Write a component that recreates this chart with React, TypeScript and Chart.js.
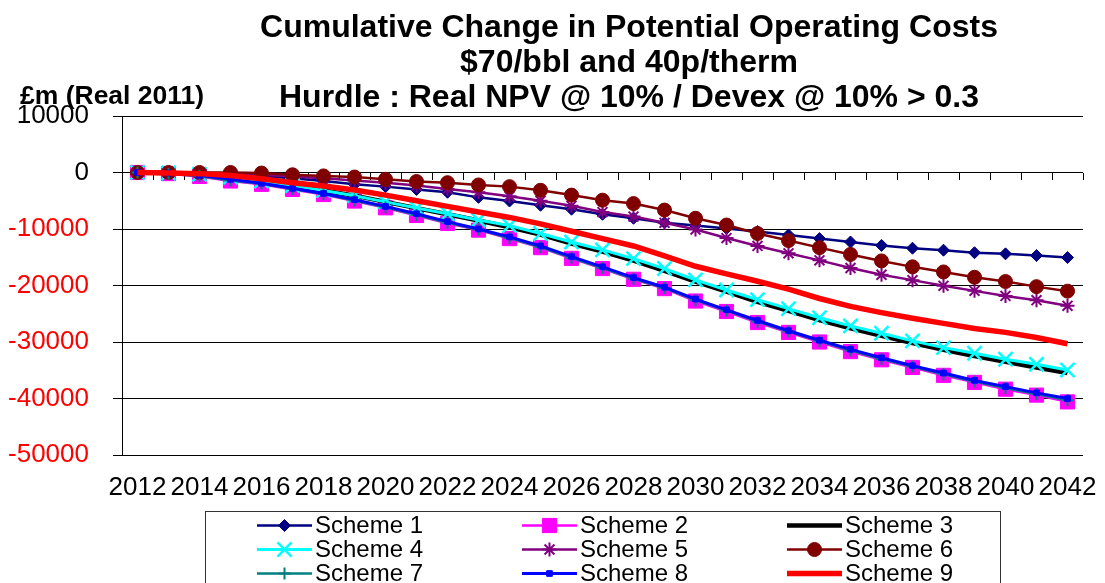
import React, { useEffect, useRef } from 'react';
import { Chart, registerables } from 'chart.js';
import { drawPoint } from 'chart.js/helpers';

Chart.register(...registerables);

const years = [
  '2012', '2013', '2014', '2015', '2016', '2017', '2018', '2019', '2020', '2021',
  '2022', '2023', '2024', '2025', '2026', '2027', '2028', '2029', '2030', '2031',
  '2032', '2033', '2034', '2035', '2036', '2037', '2038', '2039', '2040', '2041', '2042',
];

const seriesNames = ['Scheme 1', 'Scheme 2', 'Scheme 3', 'Scheme 4', 'Scheme 5', 'Scheme 6', 'Scheme 7', 'Scheme 8', 'Scheme 9'];

const scheme1 = [0, 0, -100, -300, -600, -1000, -1500, -2100, -2500, -3000, -3500, -4400, -5050, -5800, -6500, -7400, -8100, -8900, -9400, -9900, -10450, -11050, -11700, -12300, -12900, -13400, -13750, -14200, -14400, -14700, -15050];
const scheme2 = [0, -200, -700, -1500, -2100, -3000, -3900, -5050, -6250, -7600, -9000, -10200, -11700, -13300, -15200, -17000, -18900, -20550, -22750, -24600, -26550, -28300, -30000, -31700, -33150, -34500, -35900, -37150, -38350, -39400, -40600];
const scheme3 = [0, -100, -300, -800, -1500, -2300, -3200, -4100, -5200, -6300, -7400, -8500, -9700, -11000, -12600, -14000, -15600, -17400, -19300, -21100, -22900, -24500, -26100, -27600, -28900, -30200, -31400, -32500, -33500, -34500, -35500];
const scheme4 = [0, -100, -300, -800, -1500, -2300, -3200, -4100, -5200, -6300, -7300, -8400, -9400, -10800, -12300, -13700, -15250, -17000, -19000, -20800, -22500, -24100, -25700, -27150, -28450, -29800, -31000, -32000, -33050, -33950, -34950];
const scheme5 = [0, 0, -100, -200, -400, -700, -1000, -1400, -1800, -2300, -2900, -3500, -4200, -5000, -5900, -7000, -7800, -8900, -10100, -11600, -13000, -14300, -15550, -16900, -18100, -19050, -20050, -20950, -21850, -22600, -23600];
const scheme6 = [0, 0, 0, 0, -100, -400, -600, -800, -1200, -1600, -1800, -2200, -2500, -3150, -4000, -4900, -5500, -6650, -8100, -9300, -10800, -12050, -13300, -14500, -15650, -16700, -17600, -18550, -19300, -20200, -21000];
const scheme7 = [0, -200, -600, -1400, -2000, -2900, -3800, -4950, -6150, -7500, -8900, -10100, -11600, -13200, -15100, -16900, -18800, -20450, -22600, -24450, -26400, -28150, -29850, -31500, -33000, -34350, -35700, -37000, -38150, -39200, -40300];
const scheme8 = [0, -100, -500, -1200, -1900, -2800, -3700, -4800, -6000, -7300, -8700, -10000, -11400, -13000, -14900, -16700, -18600, -20300, -22400, -24300, -26200, -28000, -29700, -31300, -32800, -34200, -35500, -36800, -37900, -39000, -40000];
const scheme9 = [0, -100, -200, -550, -1100, -1800, -2400, -3100, -4000, -5000, -6000, -7000, -7950, -9100, -10400, -11700, -13000, -14750, -16600, -17950, -19250, -20650, -22300, -23700, -24800, -25800, -26700, -27600, -28300, -29200, -30300];

const seriesValues = [scheme1, scheme2, scheme3, scheme4, scheme5, scheme6, scheme7, scheme8, scheme9];

const yMin = -50000;
const yMax = 10000;
const yStep = 10000;

const titleLines = [
  'Cumulative Change in Potential Operating Costs',
  '$70/bbl and 40p/therm',
  'Hurdle : Real NPV @ 10% / Devex @ 10% > 0.3',
];
const unitLabel = '£m (Real 2011)';

const FONT = '"Liberation Sans", Arial, sans-serif';

type Style = { color: string; pointStyle: any; radius: number; lineWidth: number; pointBorder: number };
const styles: Style[] = [
  { color: '#000080', pointStyle: 'rectRot', radius: 6, lineWidth: 2.5, pointBorder: 1 },
  { color: '#FF00FF', pointStyle: 'rect', radius: 10, lineWidth: 2.5, pointBorder: 1 },
  { color: '#000000', pointStyle: false, radius: 0, lineWidth: 4.5, pointBorder: 0 },
  { color: '#00FFFF', pointStyle: 'crossRot', radius: 10, lineWidth: 3, pointBorder: 2.5 },
  { color: '#800080', pointStyle: 'star', radius: 7, lineWidth: 2.5, pointBorder: 2 },
  { color: '#800000', pointStyle: 'circle', radius: 7, lineWidth: 2.5, pointBorder: 1 },
  { color: '#008080', pointStyle: 'cross', radius: 6, lineWidth: 2.5, pointBorder: 2 },
  { color: '#0000FF', pointStyle: 'rect', radius: 4, lineWidth: 3, pointBorder: 1 },
  { color: '#FF0000', pointStyle: false, radius: 0, lineWidth: 5.5, pointBorder: 0 },
];

const headerPlugin = {
  id: 'headerText',
  afterDraw(chart: any) {
    const ctx = chart.ctx;
    ctx.save();
    ctx.fillStyle = '#000';
    ctx.textBaseline = 'alphabetic';
    ctx.textAlign = 'center';
    ctx.font = `bold 32px ${FONT}`;
    const baselines = [37, 72, 107];
    titleLines.forEach((t, i) => ctx.fillText(t, 629, baselines[i]));
    ctx.textAlign = 'left';
    ctx.font = `bold 26.5px ${FONT}`;
    ctx.fillText(unitLabel, 20, 104);
    ctx.restore();
  },
};

const legendPlugin = {
  id: 'boxLegend',
  afterDraw(chart: any) {
    const ctx = chart.ctx;
    ctx.save();
    ctx.strokeStyle = '#333';
    ctx.lineWidth = 1;
    ctx.strokeRect(205.5, 511.5, 795, 120);
    const rows = [525.5, 549.5, 573.5];
    chart.data.datasets.forEach((ds: any, i: number) => {
      const st = styles[i];
      const col = i % 3;
      const row = Math.floor(i / 3);
      const x0 = 257 + col * 265;
      const y = rows[row];
      ctx.strokeStyle = st.color;
      ctx.lineWidth = st.lineWidth;
      ctx.beginPath();
      ctx.moveTo(x0, y);
      ctx.lineTo(x0 + 55, y);
      ctx.stroke();
      if (st.pointStyle) {
        ctx.fillStyle = st.color;
        ctx.strokeStyle = st.color;
        ctx.lineWidth = st.pointBorder;
        drawPoint(ctx, { pointStyle: st.pointStyle, radius: st.radius, borderWidth: st.pointBorder, rotation: 0 } as any, x0 + 27.5, y);
      }
      ctx.fillStyle = '#000';
      ctx.font = `24px ${FONT}`;
      ctx.textAlign = 'left';
      ctx.textBaseline = 'middle';
      ctx.fillText(ds.label, x0 + 58, y + 1);
    });
    ctx.restore();
  },
};

export default function App() {
  const ref = useRef<HTMLCanvasElement>(null);
  useEffect(() => {
    const canvas = ref.current!;
    const datasets = seriesValues.map((vals, i) => {
      const st = styles[i];
      return {
        label: seriesNames[i],
        data: vals,
        borderColor: st.color,
        backgroundColor: st.color,
        borderWidth: st.lineWidth,
        pointStyle: st.pointStyle,
        pointRadius: st.radius,
        pointHoverRadius: st.radius,
        pointBackgroundColor: st.color,
        pointBorderColor: st.color,
        pointBorderWidth: st.pointBorder,
        tension: 0,
        fill: false,
        order: 8 - i,
      };
    });
    const chart = new Chart(canvas, {
      type: 'line',
      data: { labels: years, datasets },
      options: {
        responsive: false,
        animation: false,
        devicePixelRatio: 1,
        layout: { padding: { left: 0, right: 22, top: 116, bottom: 78 } },
        plugins: {
          legend: { display: false },
          title: { display: false },
          tooltip: { enabled: false },
        },
        scales: {
          x: {
            type: 'category',
            position: 'bottom',
            offset: true,
            grid: { display: false, drawTicks: false },
            border: { display: false },
            ticks: {
              autoSkip: false,
              maxRotation: 0,
              minRotation: 0,
              padding: 17,
              color: '#000',
              font: { family: FONT, size: 26 },
              callback: (_v: any, i: number) => (i % 2 === 0 ? years[i] : ''),
            },
            afterFit: (s: any) => { s.height = 50; s.paddingLeft = 0; s.paddingRight = 0; },
          },
          x0: {
            type: 'category',
            position: { y: 0 },
            offset: true,
            grid: { display: true, offset: true, drawOnChartArea: false, drawTicks: true, tickLength: 7, color: '#000', lineWidth: 1 },
            border: { display: false },
            ticks: { display: false },
            afterFit: (s: any) => { s.paddingLeft = 0; s.paddingRight = 0; },
          },
          y: {
            type: 'linear',
            position: 'left',
            min: yMin,
            max: yMax,
            ticks: {
              stepSize: yStep,
              padding: 24,
              color: (c: any) => (c.tick && c.tick.value < 0 ? '#FF0000' : '#000000'),
              font: { family: FONT, size: 26 },
              callback: (v: any) => String(v),
            },
            grid: { color: '#000', lineWidth: 1, drawTicks: true, tickLength: 9 },
            border: { display: true, color: '#000', width: 1 },
            afterFit: (s: any) => { s.width = 122; s.paddingTop = 0; s.paddingBottom = 0; },
          },
        },
      } as any,
      plugins: [headerPlugin, legendPlugin],
    });
    return () => chart.destroy();
  }, []);
  return (
    <div style={{ position: 'fixed', left: 0, top: 0, width: 1105, height: 583, background: '#fff', overflow: 'hidden' }}>
      <canvas ref={ref} width={1105} height={583} style={{ display: 'block', width: 1105, height: 583 }} />
    </div>
  );
}
